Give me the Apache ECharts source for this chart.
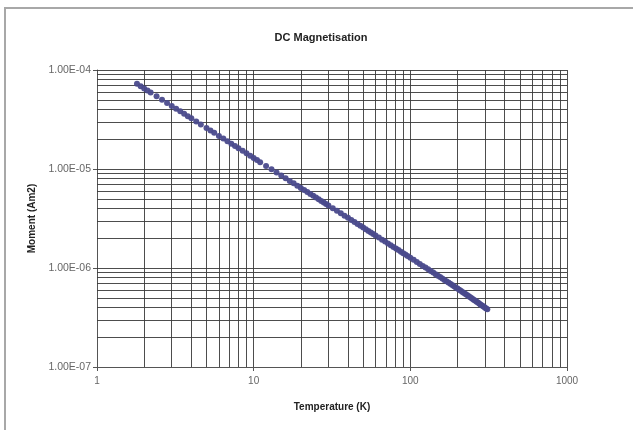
<!DOCTYPE html>
<html>
<head>
<meta charset="utf-8">
<script src="https://cdn.jsdelivr.net/npm/echarts@6/dist/echarts.min.js"></script>
<style>
html,body{margin:0;padding:0;background:#fff;}
#chart{width:633px;height:430px;}
</style>
</head>
<body>
<div id="chart"></div>
<script>
var chartTitle = 'DC Magnetisation';
var xAxisTitle = 'Temperature (K)';
var yAxisTitle = 'Moment (Am2)';
var xTickLabels = ['1', '10', '100', '1000'];
var yTickLabels = ['1.00E-07', '1.00E-06', '1.00E-05', '1.00E-04'];

var tempK = [1.8,1.9,2.0,2.1,2.2,2.4,2.6,2.8,3.0,3.2,3.4,3.6,3.8,4.0,4.3,4.6,5.0,5.3,5.6,6.0,6.4,6.8,7.2,7.6,8.0,8.5,9.0,9.5,10,10.5,11,12,13,14,15,16,17,18,19,20,21,22,23,24,25,26,27,28,29,30,32,34,36,38,40,42,44,46,48,50,52,54,56,58,60,63,66,69,72,75,78,81,84,87,90,93,96,100,105,110,115,120,125,130,135,140,145,150,155,160,165,170,175,180,185,190,195,200,205,210,215,220,225,230,235,240,245,250,255,260,265,270,275,280,285,290,295,300,305,310];
var momentAm2 = [7.25e-5,6.87e-5,6.52e-5,6.21e-5,5.93e-5,5.43e-5,5.01e-5,4.65e-5,4.34e-5,4.07e-5,3.83e-5,3.61e-5,3.42e-5,3.25e-5,3.02e-5,2.82e-5,2.60e-5,2.45e-5,2.32e-5,2.16e-5,2.03e-5,1.91e-5,1.80e-5,1.71e-5,1.62e-5,1.53e-5,1.44e-5,1.36e-5,1.29e-5,1.23e-5,1.17e-5,1.075e-5,9.92e-6,9.21e-6,8.59e-6,8.05e-6,7.58e-6,7.16e-6,6.78e-6,6.44e-6,6.13e-6,5.85e-6,5.60e-6,5.36e-6,5.15e-6,4.95e-6,4.76e-6,4.59e-6,4.43e-6,4.28e-6,4.01e-6,3.78e-6,3.57e-6,3.38e-6,3.21e-6,3.06e-6,2.92e-6,2.79e-6,2.67e-6,2.56e-6,2.46e-6,2.37e-6,2.28e-6,2.20e-6,2.13e-6,2.03e-6,1.93e-6,1.85e-6,1.77e-6,1.70e-6,1.63e-6,1.57e-6,1.52e-6,1.46e-6,1.41e-6,1.37e-6,1.32e-6,1.27e-6,1.21e-6,1.15e-6,1.10e-6,1.05e-6,1.01e-6,9.70e-7,9.33e-7,8.99e-7,8.67e-7,8.37e-7,8.09e-7,7.83e-7,7.58e-7,7.35e-7,7.13e-7,6.92e-7,6.72e-7,6.54e-7,6.36e-7,6.19e-7,6.03e-7,5.88e-7,5.73e-7,5.59e-7,5.46e-7,5.33e-7,5.21e-7,5.09e-7,4.98e-7,4.87e-7,4.76e-7,4.66e-7,4.56e-7,4.47e-7,4.38e-7,4.29e-7,4.21e-7,4.13e-7,4.05e-7,3.97e-7,3.90e-7,3.83e-7];

var xDecades = [1, 10, 100, 1000];
var yDecades = [1e-7, 1e-6, 1e-5, 1e-4];

var points = tempK.map(function (t, i) { return [t, momentAm2[i]]; });

var xMin = xDecades[0], xMax = xDecades[xDecades.length - 1];
var yMin = yDecades[0], yMax = yDecades[yDecades.length - 1];

var gridColor = '#3a3a3a';
var gridLines = [];
for (var i = 0; i < xDecades.length - 1; i++) {
  for (var k = 1; k <= 9; k++) {
    var v = xDecades[i] * k;
    if (v > xMin) gridLines.push([{ coord: [v, yMin] }, { coord: [v, yMax] }]);
  }
}
gridLines.push([{ coord: [xMax, yMin] }, { coord: [xMax, yMax] }]);
for (var j = 0; j < yDecades.length - 1; j++) {
  for (var m = 1; m <= 9; m++) {
    var w = yDecades[j] * m;
    if (w > yMin) gridLines.push([{ coord: [xMin, w] }, { coord: [xMax, w] }]);
  }
}
gridLines.push([{ coord: [xMin, yMax] }, { coord: [xMax, yMax] }]);

function xLabel(v) {
  var idx = xDecades.findIndex(function (d) { return Math.abs(Math.log10(d) - Math.log10(v)) < 1e-6; });
  return idx >= 0 ? xTickLabels[idx] : '';
}
function yLabel(v) {
  var idx = yDecades.findIndex(function (d) { return Math.abs(Math.log10(d) - Math.log10(v)) < 1e-6; });
  return idx >= 0 ? yTickLabels[idx] : '';
}

var chart = echarts.init(document.getElementById('chart'), null, { renderer: 'canvas' });
chart.setOption({
  animation: false,
  backgroundColor: '#ffffff',
  textStyle: { fontFamily: 'Liberation Sans, Arial, sans-serif' },
  title: {
    text: chartTitle,
    left: 316,
    top: 27,
    textAlign: 'center',
    textStyle: { fontSize: 11, fontWeight: 'bold', color: '#222', fontFamily: 'Liberation Sans, Arial, sans-serif' }
  },
  graphic: [{
    type: 'rect',
    shape: { x: 5, y: 8, width: 650, height: 450 },
    style: { fill: 'none', stroke: '#a8a8a8', lineWidth: 2 },
    silent: true,
    z: 100
  }],
  grid: { left: 97, right: 66, top: 70, bottom: 63, containLabel: false },
  xAxis: {
    type: 'log',
    logBase: 10,
    min: xMin,
    max: xMax,
    name: xAxisTitle,
    nameLocation: 'middle',
    nameGap: 35,
    nameTextStyle: { fontSize: 10, fontWeight: 'bold', color: '#222' },
    axisLine: { show: true, lineStyle: { color: '#555', width: 1 } },
    axisTick: { show: true, length: 4, lineStyle: { color: '#555' } },
    axisLabel: { fontSize: 10, color: '#666', margin: 9, formatter: function (v) { return xLabel(v); } },
    splitLine: { show: false },
    minorTick: { show: false },
    minorSplitLine: { show: false }
  },
  yAxis: {
    type: 'log',
    logBase: 10,
    min: yMin,
    max: yMax,
    name: yAxisTitle,
    nameLocation: 'middle',
    nameGap: 60,
    nameRotate: 90,
    nameTextStyle: { fontSize: 10, fontWeight: 'bold', color: '#222' },
    axisLine: { show: true, lineStyle: { color: '#555', width: 1 } },
    axisTick: { show: true, length: 4, lineStyle: { color: '#555' } },
    axisLabel: { fontSize: 10.5, color: '#666', margin: 6, formatter: function (v) { return yLabel(v); } },
    splitLine: { show: false },
    minorTick: { show: false },
    minorSplitLine: { show: false }
  },
  series: [{
    type: 'scatter',
    data: points,
    symbol: 'circle',
    symbolSize: 6,
    itemStyle: { color: '#4a4a8c', opacity: 0.95 },
    z: 5,
    markLine: {
      silent: true,
      symbol: ['none', 'none'],
      label: { show: false },
      lineStyle: { color: gridColor, width: 1, type: 'solid', opacity: 0.9 },
      emphasis: { disabled: true },
      z: 1,
      data: gridLines
    }
  }]
});
</script>
</body>
</html>
